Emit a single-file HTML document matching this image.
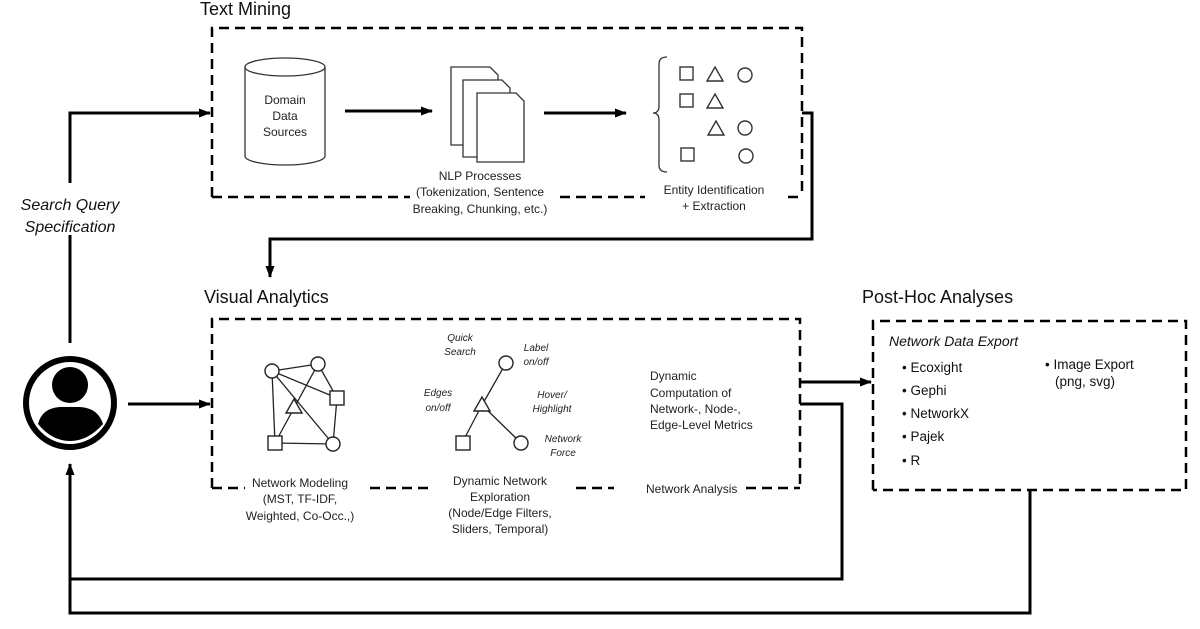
<!DOCTYPE html>
<html><head><meta charset="utf-8"><style>
html,body{margin:0;padding:0;background:#fff;}
svg{display:block;}
.c{font-family:"Liberation Sans",sans-serif;fill:#222;}
</style></head><body>
<svg width="1200" height="629" viewBox="0 0 1200 629" xmlns="http://www.w3.org/2000/svg">
<defs>
<marker id="ah" markerWidth="12" markerHeight="12" refX="11" refY="6" orient="auto" markerUnits="userSpaceOnUse">
<path d="M0,1.5 L12,6 L0,10.5 Z" fill="#000"/></marker>
</defs>
<g font-family="Liberation Sans, sans-serif" fill="#111">
<text x="200" y="15" font-size="18">Text Mining</text>
<text x="204" y="303" font-size="18">Visual Analytics</text>
<text x="862" y="303" font-size="18">Post-Hoc Analyses</text>
</g>
<g fill="none" stroke="#000" stroke-width="2.5" stroke-dasharray="10,6">
<path d="M212,197 L212,28 L802,28 L802,197"/>
<path d="M212,197 H410 M560,197 H645 M788,197 H802"/>
<path d="M212,488 L212,319 L800,319 L800,488"/>
<path d="M212,488 H245 M370,488 H428 M576,488 H614 M746,488 H800"/>
<path d="M873,490 L873,321 L1186,321 L1186,490 L873,490"/>
</g>
<g fill="none" stroke="#000" stroke-width="3">
<path d="M70,183 V113 H210" marker-end="url(#ah)"/>
<path d="M70,235 V343"/>
<path d="M128,404 H210" marker-end="url(#ah)"/>
<path d="M802,113 H812 V239 H270 V277" marker-end="url(#ah)"/>
<path d="M800,382 H871" marker-end="url(#ah)"/>
<path d="M800,404 H842 V579 H70 V464" marker-end="url(#ah)"/>
<path d="M1030,490 V613 H70 V579"/>
<path d="M345,111 H432" marker-end="url(#ah)"/>
<path d="M544,113 H626" marker-end="url(#ah)"/>
</g>
<circle cx="70" cy="403" r="44" fill="#fff" stroke="#000" stroke-width="6"/>
<circle cx="70" cy="385" r="18" fill="#000"/>
<path d="M38,424 Q42,408 60,407 L80,407 Q98,408 103,424 Q88,441 70,441 Q52,441 38,424 Z" fill="#000"/>
<text x="70" y="210" font-family="Liberation Sans, sans-serif" font-style="italic" font-size="16" text-anchor="middle" fill="#111">Search Query</text>
<text x="70" y="232" font-family="Liberation Sans, sans-serif" font-style="italic" font-size="16" text-anchor="middle" fill="#111">Specification</text>
<g fill="#fff" stroke="#333" stroke-width="1.3">
<path d="M245,67 V156 A40,9 0 0 0 325,156 V67"/>
<ellipse cx="285" cy="67" rx="40" ry="9"/>
</g>
<g class="c" font-size="12" text-anchor="middle">
<text x="285" y="104">Domain</text><text x="285" y="120">Data</text><text x="285" y="136">Sources</text>
</g>
<g fill="#fff" stroke="#333" stroke-width="1.3">
<path d="M451,67 H490 L498,75 V145 H451 Z"/>
<path d="M463,80 H502 L510,88 V157 H463 Z"/>
<path d="M477,93 H516 L524,101 V162 H477 Z"/>
</g>
<g class="c" font-size="12" text-anchor="middle">
<text x="480" y="180">NLP Processes</text>
<text x="480" y="196">(Tokenization, Sentence</text>
<text x="480" y="213">Breaking,  Chunking, etc.)</text>
<text x="714" y="194">Entity Identification</text>
<text x="714" y="210">+ Extraction</text>
</g>
<path d="M667,57 Q659,57 659,64 V106 Q659,113 653,113 Q659,113 659,120 V165 Q659,172 667,172" fill="none" stroke="#333" stroke-width="1.3"/>
<g fill="none" stroke="#333" stroke-width="1.4">
<rect x="680" y="67" width="13" height="13"/>
<rect x="680" y="94" width="13" height="13"/>
<rect x="681" y="148" width="13" height="13"/>
<path d="M715,67 L723,81 L707,81 Z"/><path d="M715,94 L723,108 L707,108 Z"/><path d="M716,121 L724,135 L708,135 Z"/>
<circle cx="745" cy="75" r="7"/><circle cx="745" cy="128" r="7"/><circle cx="746" cy="156" r="7"/>
</g>
<g stroke="#222" stroke-width="1.3" fill="none">
<path d="M272,371 L318,364 M272,371 L337,398 M272,371 L333,444 M272,371 L275,443 M318,364 L275,443 M318,364 L337,398 M337,398 L333,444 M275,443 L333,444"/>
<path d="M482,405 L506,363 M482,405 L462,443 M482,405 L521,443"/>
</g>
<g fill="#fff" stroke="#222" stroke-width="1.4">
<circle cx="272" cy="371" r="7"/><circle cx="318" cy="364" r="7"/><circle cx="333" cy="444" r="7"/>
<rect x="330" y="391" width="14" height="14"/><rect x="268" y="436" width="14" height="14"/>
<path d="M294,399 L302,413 L286,413 Z"/>
<circle cx="506" cy="363" r="7"/><circle cx="521" cy="443" r="7"/>
<rect x="456" y="436" width="14" height="14"/>
<path d="M482,397 L490,411 L474,411 Z"/>
</g>
<g class="c" font-size="10" font-style="italic" text-anchor="middle">
<text x="460" y="341">Quick</text><text x="460" y="355">Search</text>
<text x="536" y="351">Label</text><text x="536" y="365">on/off</text>
<text x="438" y="396">Edges</text><text x="438" y="411">on/off</text>
<text x="552" y="398">Hover/</text><text x="552" y="412">Highlight</text>
<text x="563" y="442">Network</text><text x="563" y="456">Force</text>
</g>
<g class="c" font-size="12" text-anchor="middle">
<text x="300" y="487">Network Modeling</text><text x="300" y="503">(MST, TF-IDF,</text><text x="300" y="520">Weighted, Co-Occ.,)</text>
<text x="500" y="485">Dynamic Network</text><text x="500" y="501">Exploration</text><text x="500" y="517">(Node/Edge Filters,</text><text x="500" y="533">Sliders, Temporal)</text>
</g>
<g class="c" font-size="12">
<text x="650" y="380">Dynamic</text><text x="650" y="397">Computation of</text><text x="650" y="413">Network-, Node-,</text><text x="650" y="429">Edge-Level Metrics</text>
<text x="646" y="493">Network Analysis</text>
</g>
<g font-family="Liberation Sans, sans-serif" fill="#111" font-size="13.5">
<text x="889" y="346" font-style="italic" font-size="14">Network Data Export</text>
<text x="902" y="372">• Ecoxight</text>
<text x="902" y="395">• Gephi</text>
<text x="902" y="418">• NetworkX</text>
<text x="902" y="441">• Pajek</text>
<text x="902" y="465">• R</text>
<text x="1045" y="369">• Image Export</text>
<text x="1055" y="386">(png, svg)</text>
</g>
</svg>
</body></html>
